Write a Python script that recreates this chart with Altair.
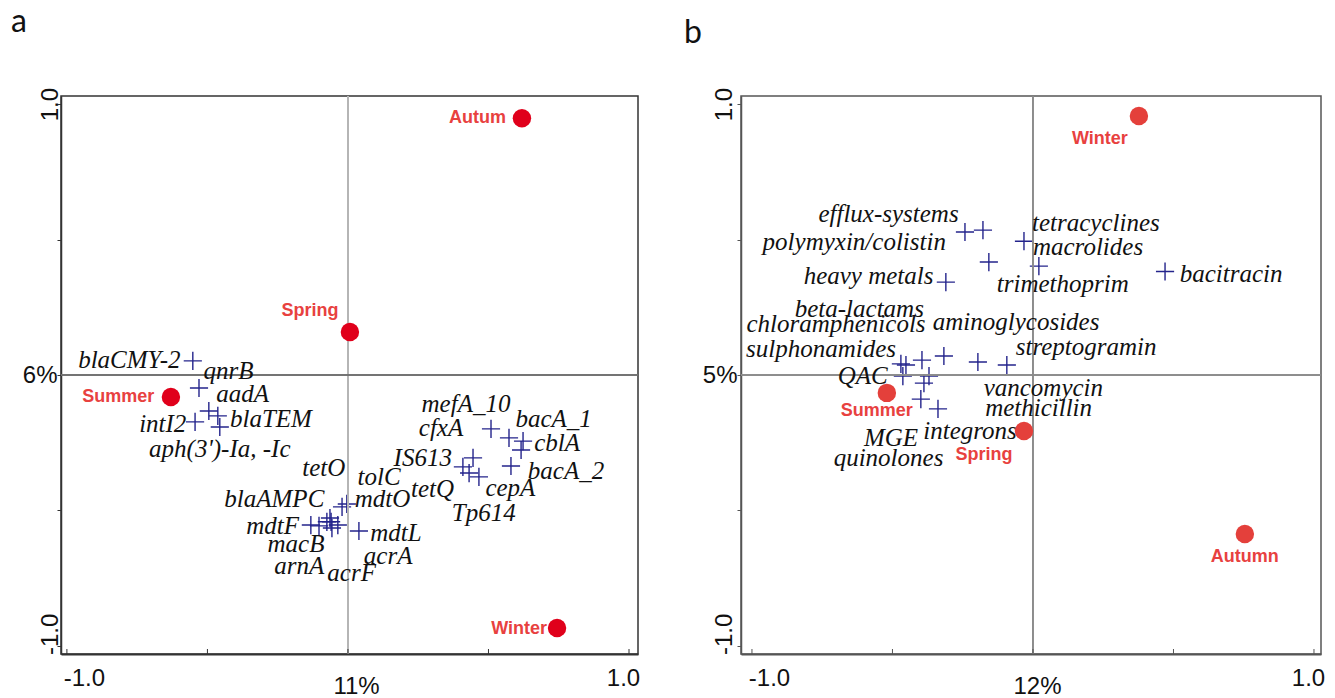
import altair as alt
import pandas as pd

# ---------------- Panel a (genes) ----------------
a_seasons = ["Autum", "Spring", "Summer", "Winter"]
a_season_x = [0.619, 0.007, -0.630, 0.744]
a_season_y = [0.948, 0.159, -0.081, -0.934]
a_season_lx = [0.461, -0.135, -0.817, 0.609]
a_season_ly = [0.948, 0.236, -0.081, -0.937]

a_genes = ["blaCMY-2", "qnrB", "aadA", "intI2", "blaTEM", "aph(3')-Ia, -Ic",
           "tetO", "blaAMPC", "mdtF", "macB", "arnA", "acrF", "acrA", "mdtL", "mdtO", "tolC",
           "tetQ", "Tp614", "IS613", "cepA", "cfxA", "mefA_10", "bacA_1", "cblA", "bacA_2"]
a_gene_lx = [-0.778, -0.425, -0.375, -0.659, -0.274, -0.456,
             -0.086, -0.262, -0.268, -0.185, -0.173, 0.013, 0.143, 0.171, 0.123, 0.111,
             0.301, 0.483, 0.266, 0.578, 0.331, 0.420, 0.732, 0.744, 0.776]
a_gene_ly = [0.055, 0.015, -0.071, -0.182, -0.163, -0.274,
             -0.342, -0.459, -0.557, -0.625, -0.705, -0.730, -0.668, -0.582, -0.459, -0.376,
             -0.422, -0.510, -0.305, -0.416, -0.194, -0.108, -0.163, -0.250, -0.354]
a_cross_x = [-0.552, -0.530, -0.495, -0.463, -0.456, -0.544,
             -0.132, -0.103, -0.075, -0.060, -0.057, -0.036, -0.021, -0.004, 0.039, -0.064,
             0.509, 0.573, 0.623, 0.616, 0.580, 0.445, 0.409, 0.431, 0.466]
a_cross_y = [0.052, -0.048, -0.133, -0.151, -0.192, -0.173,
             -0.554, -0.557, -0.542, -0.542, -0.565, -0.554, -0.487, -0.476, -0.576, -0.528,
             -0.199, -0.232, -0.244, -0.277, -0.336, -0.306, -0.339, -0.362, -0.376]

# ---------------- Panel b (classes) ----------------
b_seasons = ["Winter", "Summer", "Spring", "Autumn"]
b_season_x = [0.377, -0.520, -0.032, 0.754]
b_season_y = [0.956, -0.066, -0.207, -0.587]
b_season_lx = [0.238, -0.556, -0.174, 0.754]
b_season_ly = [0.871, -0.133, -0.295, -0.672]

b_classes = ["efflux-systems", "polymyxin/colistin", "heavy metals", "trimethoprim",
             "beta-lactams", "chloramphenicols", "aminoglycosides", "tetracyclines",
             "macrolides", "bacitracin", "sulphonamides", "streptogramin", "QAC",
             "vancomycin", "methicillin", "MGE", "integrons", "quinolones"]
b_class_lx = [-0.514, -0.636, -0.585, 0.106, -0.618, -0.701, -0.060, 0.224,
              0.196, 0.705, -0.754, 0.189, -0.606, 0.037, 0.020, -0.505, -0.224, -0.514]
b_class_ly = [0.594, 0.491, 0.365, 0.336, 0.244, 0.188, 0.196, 0.561,
              0.472, 0.373, 0.096, 0.103, -0.004, -0.048, -0.122, -0.232, -0.207, -0.306]
b_cross_x = [-0.242, -0.178, -0.032, 0.021, -0.157, -0.310, 0.470,
             -0.470, -0.452, -0.395, -0.317, -0.196, -0.093, -0.463, -0.370, -0.388, -0.399, -0.338]
b_cross_y = [0.528, 0.535, 0.494, 0.402, 0.417, 0.343, 0.382,
             0.041, 0.037, 0.055, 0.070, 0.048, 0.037, -0.004, -0.004, -0.030, -0.089, -0.125]

tick_values = [-1.0, -0.5, 0.0, 0.5, 1.0]

LABEL_EXPR = "datum.value == -1 ? '-1.0' : datum.value == 1 ? '1.0' : ''"
H = 558
CROSS = "M-1,0H1M0,-1V1"


def panel(letter, letter_dx, letter_offset, xdom, width, xtitle, xtitle_x, ytitle,
          seasons, sx, sy, slx, sly, names, nlx, nly, cx, cy,
          circle_color, frame_color, vline_color, vline_w, hline_color, ylabpad):
    xs = alt.Scale(domain=xdom, nice=False, zero=False)
    ys = alt.Scale(domain=[-1.03, 1.03], nice=False, zero=False)
    xaxis = alt.Axis(
        values=tick_values, labelExpr=LABEL_EXPR, tickSize=0, grid=False,
        domainColor=frame_color, domainWidth=2,
        labelFont="Liberation Sans", labelFontSize=24, labelColor="#111",
        labelPadding=12, labelFlush=False, labelOverlap=False,
        labelOffset={"condition": {"test": "datum.value < 0", "value": 17}, "value": -6},
        title=xtitle, titleX=xtitle_x, titleY=39, titleBaseline="alphabetic",
        titleAlign="center", titleFont="Liberation Sans", titleFontSize=24,
        titleFontWeight="normal", titleColor="#111")
    yaxis = alt.Axis(
        values=tick_values, labelExpr=LABEL_EXPR, tickSize=4, tickColor=frame_color,
        grid=False, domainColor=frame_color, domainWidth=1.5,
        labelFont="Liberation Sans", labelFontSize=24, labelColor="#111",
        labelAngle=-90, labelAlign="center", labelBaseline="alphabetic",
        labelPadding=ylabpad, labelFlush=False, labelOverlap=False,
        labelOffset={"condition": {"test": "datum.value < 0", "value": -12}, "value": 0},
        title=ytitle, titleAngle=0, titleX=-4, titleY=H / 2, titleAlign="right",
        titleBaseline="middle", titleFont="Liberation Sans", titleFontSize=24,
        titleFontWeight="normal", titleColor="#111")

    cross_df = pd.DataFrame({"x": cx, "y": cy})
    name_df = pd.DataFrame({"name": names, "x": nlx, "y": nly})
    season_df = pd.DataFrame({"season": seasons, "x": sx, "y": sy, "lx": slx, "ly": sly})
    ticks_df = pd.DataFrame({"t": tick_values})

    X = lambda f: alt.X(f, scale=xs, axis=xaxis)
    Y = lambda f: alt.Y(f, scale=ys, axis=yaxis)

    vline = alt.Chart(ticks_df).mark_rule(color=vline_color, strokeWidth=vline_w).encode(
        x=alt.XDatum(0, scale=xs, axis=xaxis))
    hline = alt.Chart(ticks_df).mark_rule(color=hline_color, strokeWidth=1).encode(
        y=alt.YDatum(0, scale=ys, axis=yaxis))
    inticks = alt.Chart(ticks_df).mark_rule(color=frame_color, strokeWidth=1).encode(
        x=X("t:Q"), y=alt.value(H), y2=alt.value(H - 5))
    crosses = alt.Chart(cross_df).mark_point(
        shape=CROSS, filled=False, size=330, strokeWidth=1.4, color="#24248c", opacity=1
    ).encode(x=X("x:Q"), y=Y("y:Q"))
    names_t = alt.Chart(name_df).mark_text(
        font="Liberation Serif", fontStyle="italic", fontSize=25, color="#111",
        align="center", baseline="middle"
    ).encode(x=X("x:Q"), y=Y("y:Q"), text="name:N")
    circles = alt.Chart(season_df).mark_circle(size=340, opacity=1, color=circle_color).encode(
        x=X("x:Q"), y=Y("y:Q"))
    season_t = alt.Chart(season_df).mark_text(
        font="Liberation Sans", fontWeight="bold", fontSize=18, color="#e8413f",
        align="center", baseline="middle"
    ).encode(x=X("lx:Q"), y=Y("ly:Q"), text="season:N")

    return alt.layer(crosses, vline, hline, inticks, names_t, circles, season_t).properties(
        width=width, height=H,
        title=alt.TitleParams(letter, anchor="start", frame="group", dx=letter_dx,
                              offset=letter_offset, baseline="alphabetic", fontSize=32,
                              font="Lato", fontWeight="normal", color="#111"),
        view=alt.ViewBackground(stroke=frame_color, strokeWidth=1.5),
    )


pa = panel("a", -50, 23, [-1.021, 1.032], 577, "11%", 295, "6%",
           a_seasons, a_season_x, a_season_y, a_season_lx, a_season_ly,
           a_genes, a_gene_lx, a_gene_ly, a_cross_x, a_cross_y,
           "#e0001b", "#333333", "#b5b5b5", 1.5, "#707070", 0)
pb = panel("b", -57, 12, [-1.039, 1.025], 580, "12%", 296, "5%",
           b_seasons, b_season_x, b_season_y, b_season_lx, b_season_ly,
           b_classes, b_class_lx, b_class_ly, b_cross_x, b_cross_y,
           "#e4403b", "#555555", "#8a8a8a", 1, "#8a8a8a", 6)

chart = alt.hconcat(pa, pb, spacing=103, bounds="flush").properties(
    padding={"left": 10, "top": 5, "right": 5, "bottom": 0},
    background="white",
)

chart.save("out.html", embed_options={"renderer": "svg", "actions": False})
